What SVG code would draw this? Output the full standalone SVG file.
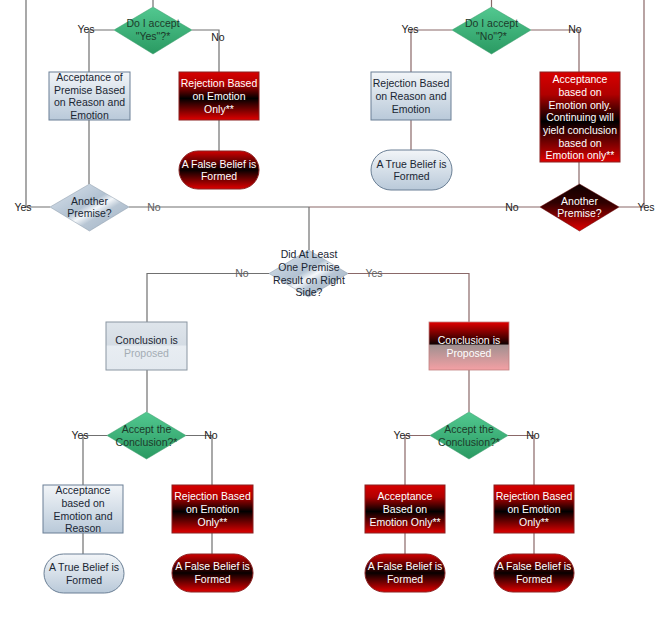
<svg xmlns="http://www.w3.org/2000/svg" width="656" height="630" viewBox="0 0 656 630">
<defs>
<linearGradient id="gGreen" x1="0" y1="0" x2="0" y2="1"><stop offset="0" stop-color="#52c890"/><stop offset="1" stop-color="#2a9a62"/></linearGradient>
<linearGradient id="gBlue" x1="0" y1="0" x2="0" y2="1"><stop offset="0" stop-color="#f2f5f8"/><stop offset="1" stop-color="#b9c9d9"/></linearGradient>
<linearGradient id="gRed" x1="0" y1="0" x2="0" y2="1"><stop offset="0" stop-color="#d80000"/><stop offset="0.25" stop-color="#b00000"/><stop offset="0.55" stop-color="#000000"/><stop offset="1" stop-color="#e00000"/></linearGradient>
<linearGradient id="gOval" x1="0" y1="0" x2="0" y2="1"><stop offset="0" stop-color="#d00000"/><stop offset="0.5" stop-color="#080000"/><stop offset="1" stop-color="#e00000"/></linearGradient>
<linearGradient id="gDark" x1="0" y1="0" x2="0" y2="1"><stop offset="0" stop-color="#100000"/><stop offset="0.4" stop-color="#300000"/><stop offset="1" stop-color="#e00000"/></linearGradient>
<linearGradient id="gDia" x1="0" y1="0" x2="1" y2="1"><stop offset="0" stop-color="#dde5ee"/><stop offset="0.45" stop-color="#b2c2d2"/><stop offset="0.55" stop-color="#f4f7fa"/><stop offset="0.65" stop-color="#b8c6d4"/><stop offset="1" stop-color="#9fb1c3"/></linearGradient>
<linearGradient id="gConc" x1="0" y1="0" x2="0" y2="1"><stop offset="0" stop-color="#dfe5eb"/><stop offset="0.48" stop-color="#d4dce4"/><stop offset="0.5" stop-color="#e8edf2"/><stop offset="1" stop-color="#e3e9ef"/></linearGradient>
<linearGradient id="gConcR" x1="0" y1="0" x2="0" y2="1"><stop offset="0" stop-color="#e00000"/><stop offset="0.46" stop-color="#100000"/><stop offset="0.48" stop-color="#a09090"/><stop offset="1" stop-color="#f4a0a4"/></linearGradient>
<style>
text{font-family:"Liberation Sans",Arial,sans-serif;font-size:10.5px;text-anchor:middle}
.w{fill:#ffffff}
.k{fill:#1a2633}
.g{fill:#1c3a2a}
.lb{fill:#222222}
.lg{fill:#606060}
.c{fill:none;stroke:#707070;stroke-width:1.2}
.cr{fill:none;stroke:#8a6868;stroke-width:1.2}
.blue{fill:url(#gBlue);stroke:#6a7f95;stroke-width:1}
.red{fill:url(#gRed);stroke:#8a2020;stroke-width:1}
.oval{fill:url(#gOval);stroke:#8a2020;stroke-width:1}
.green{fill:url(#gGreen);stroke:#3a9a6a;stroke-width:0.5}
.dia{fill:url(#gDia);stroke:#8898a8;stroke-width:0.5}
</style>
</defs>
<rect width="656" height="630" fill="#ffffff"/>
<g id="connectors">
<path class="c" d="M153,0V7"/>
<path class="cr" d="M491.5,0V7"/>
<path class="c" d="M114,30H89V72"/>
<path class="c" d="M192,30H219V72"/>
<path class="c" d="M219,120V151"/>
<path class="c" d="M89,120V184"/>
<path class="c" d="M26,0V207H50"/>
<path class="c" d="M129,207H309"/>
<path class="cr" d="M309,207H540"/>
<path class="cr" d="M644,0V207H619"/>
<path class="cr" d="M452,30H411V72"/>
<path class="cr" d="M411,120V150"/>
<path class="cr" d="M531,30H579V72"/>
<path class="cr" d="M579,162V184"/>
<path class="c" d="M309,207V250"/>
<path class="c" d="M269,273.5H147V322"/>
<path class="cr" d="M348,273.5H469V322"/>
<path class="c" d="M147,370V412"/>
<path class="cr" d="M469,370V412"/>
<path class="c" d="M107,435.5H83V485"/>
<path class="c" d="M186,435.5H212V485"/>
<path class="c" d="M83,533V554"/>
<path class="c" d="M212,533V554"/>
<path class="cr" d="M430,435.5H405V485"/>
<path class="cr" d="M508,435.5H534V485"/>
<path class="cr" d="M405,533V554"/>
<path class="cr" d="M534,533V554"/>
</g>
<g id="labels">
<text class="lb" x="86" y="33">Yes</text>
<text class="lb" x="218" y="41">No</text>
<text class="lb" x="410" y="33">Yes</text>
<text class="lb" x="575" y="33">No</text>
<text class="lb" x="23" y="211">Yes</text>
<text class="lg" x="154" y="211">No</text>
<text class="lb" x="512" y="211">No</text>
<text class="lb" x="646" y="211">Yes</text>
<text class="lg" x="242" y="277">No</text>
<text class="lg" x="374" y="277">Yes</text>
<text class="lb" x="80" y="439">Yes</text>
<text class="lb" x="211" y="439">No</text>
<text class="lb" x="402" y="439">Yes</text>
<text class="lb" x="533" y="439">No</text>
</g>
<g id="d-accept-yes">
<polygon class="green" points="153,7 192,30 153,54 114,30"/>
<text class="g" x="153" y="27">Do I accept</text>
<text class="g" x="153" y="40">"Yes"?*</text>
</g>
<g id="b-accept-premise">
<rect class="blue" x="49" y="72" width="81" height="48"/>
<text class="k" x="89.5" y="81">Acceptance of</text>
<text class="k" x="89.5" y="94">Premise Based</text>
<text class="k" x="89.5" y="106">on Reason and</text>
<text class="k" x="89.5" y="119">Emotion</text>
</g>
<g id="b-reject-emotion-1">
<rect class="red" x="179" y="72" width="80" height="48"/>
<text class="w" x="219" y="87">Rejection Based</text>
<text class="w" x="219" y="100">on Emotion</text>
<text class="w" x="219" y="113">Only**</text>
</g>
<g id="o-false-1">
<rect class="oval" x="179" y="151" width="80" height="38" rx="19"/>
<text class="w" x="219" y="168">A False Belief is</text>
<text class="w" x="219" y="180">Formed</text>
</g>
<g id="d-another-left">
<polygon class="dia" points="89.5,184 129,207 89.5,231 50,207"/>
<text class="k" x="89.5" y="205">Another</text>
<text class="k" x="89.5" y="217">Premise?</text>
</g>
<g id="d-accept-no">
<polygon class="green" points="491.5,7 531,30 491.5,54 452,30"/>
<text class="g" x="491.5" y="27">Do I accept</text>
<text class="g" x="491.5" y="40">"No"?*</text>
</g>
<g id="b-reject-reason">
<rect class="blue" x="371" y="72" width="80" height="48"/>
<text class="k" x="411" y="87">Rejection Based</text>
<text class="k" x="411" y="100">on Reason and</text>
<text class="k" x="411" y="113">Emotion</text>
</g>
<g id="o-true-1">
<rect class="blue" x="371" y="150" width="81" height="40" rx="20"/>
<text class="k" x="411.5" y="168">A True Belief is</text>
<text class="k" x="411.5" y="180">Formed</text>
</g>
<g id="b-accept-emotion-only">
<rect class="red" x="540" y="72" width="80" height="90"/>
<text class="w" x="580" y="83">Acceptance</text>
<text class="w" x="580" y="96">based on</text>
<text class="w" x="580" y="108.5">Emotion only.</text>
<text class="w" x="580" y="121">Continuing will</text>
<text class="w" x="580" y="134">yield conclusion</text>
<text class="w" x="580" y="147">based on</text>
<text class="w" x="580" y="159">Emotion only**</text>
</g>
<g id="d-another-right">
<polygon points="579.5,184 619,207 579.5,231 540,207" fill="url(#gDark)" stroke="#600000" stroke-width="0.5"/>
<text class="w" x="579.5" y="205">Another</text>
<text class="w" x="579.5" y="217">Premise?</text>
</g>
<g id="d-at-least-one">
<polygon class="dia" points="308.5,250 348,273.5 308.5,297 269,273.5"/>
<text class="k" x="309" y="258">Did At Least</text>
<text class="k" x="309" y="271">One Premise</text>
<text class="k" x="309" y="284">Result on Right</text>
<text class="k" x="309" y="296">Side?</text>
</g>
<g id="b-conclusion-left">
<rect x="106" y="322" width="81" height="48" fill="url(#gConc)" stroke="#8a96a2" stroke-width="1"/>
<text class="k" x="146.5" y="344">Conclusion is</text>
<text x="146.5" y="357" fill="#a4acb4">Proposed</text>
</g>
<g id="b-conclusion-right">
<rect x="429" y="322" width="80" height="48" fill="url(#gConcR)" stroke="#c08080" stroke-width="0.8"/>
<text class="w" x="469" y="344">Conclusion is</text>
<text class="w" x="469" y="357">Proposed</text>
</g>
<g id="d-accept-conclusion-left">
<polygon class="green" points="146.5,412 186,435.5 146.5,459 107,435.5"/>
<text class="g" x="146.5" y="433">Accept the</text>
<text class="g" x="146.5" y="446">Conclusion?*</text>
</g>
<g id="d-accept-conclusion-right">
<polygon class="green" points="469,412 508,435.5 469,459 430,435.5"/>
<text class="g" x="469" y="433">Accept the</text>
<text class="g" x="469" y="446">Conclusion?*</text>
</g>
<g id="b-accept-emotion-reason">
<rect class="blue" x="43" y="485" width="80" height="48"/>
<text class="k" x="83" y="494">Acceptance</text>
<text class="k" x="83" y="507">based on</text>
<text class="k" x="83" y="520">Emotion and</text>
<text class="k" x="83" y="532">Reason</text>
</g>
<g id="o-true-2">
<rect class="blue" x="44" y="554" width="80" height="39" rx="19.5"/>
<text class="k" x="84" y="571">A True Belief is</text>
<text class="k" x="84" y="584">Formed</text>
</g>
<g id="b-reject-emotion-2">
<rect class="red" x="172" y="485" width="81" height="48"/>
<text class="w" x="212.5" y="500">Rejection Based</text>
<text class="w" x="212.5" y="513">on Emotion</text>
<text class="w" x="212.5" y="526">Only**</text>
</g>
<g id="o-false-2">
<rect class="oval" x="172" y="554" width="81" height="38" rx="19"/>
<text class="w" x="212.5" y="570">A False Belief is</text>
<text class="w" x="212.5" y="583">Formed</text>
</g>
<g id="b-accept-emotion-only-2">
<rect class="red" x="365" y="485" width="80" height="48"/>
<text class="w" x="405" y="500">Acceptance</text>
<text class="w" x="405" y="513">Based on</text>
<text class="w" x="405" y="526">Emotion Only**</text>
</g>
<g id="o-false-3">
<rect class="oval" x="365" y="554" width="80" height="38" rx="19"/>
<text class="w" x="405" y="570">A False Belief is</text>
<text class="w" x="405" y="583">Formed</text>
</g>
<g id="b-reject-emotion-3">
<rect class="red" x="494" y="485" width="80" height="48"/>
<text class="w" x="534" y="500">Rejection Based</text>
<text class="w" x="534" y="513">on Emotion</text>
<text class="w" x="534" y="526">Only**</text>
</g>
<g id="o-false-4">
<rect class="oval" x="494" y="554" width="80" height="38" rx="19"/>
<text class="w" x="534" y="570">A False Belief is</text>
<text class="w" x="534" y="583">Formed</text>
</g>
</svg>
